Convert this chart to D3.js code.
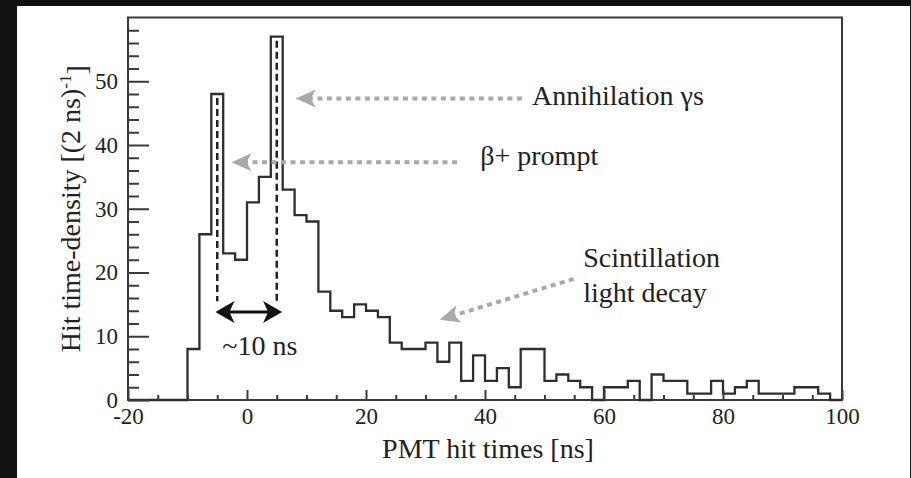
<!DOCTYPE html>
<html>
<head>
<meta charset="utf-8">
<script src="https://cdn.jsdelivr.net/npm/d3@7/dist/d3.min.js"></script>
<style>
  html, body { margin: 0; padding: 0; background: #111; }
  svg { display: block; }
  text { font-family: "Liberation Serif", "Times New Roman", serif; fill: #222; }
</style>
</head>
<body>
<script>
// PMT hit-time histogram, 2 ns bins (lower bin edges in ns)
const binEdges = [-20, -18, -16, -14, -12, -10, -8, -6, -4, -2,
                    0,   2,   4,   6,   8,  10, 12, 14, 16, 18,
                   20,  22,  24,  26,  28,  30, 32, 34, 36, 38,
                   40,  42,  44,  46,  48,  50, 52, 54, 56, 58,
                   60,  62,  64,  66,  68,  70, 72, 74, 76, 78,
                   80,  82,  84,  86,  88,  90, 92, 94, 96, 98];
const binUpperEdge = 100;
const hitCounts = [ 0,  0,  0,  0,  0,  8, 26, 48, 23, 22,
                   31, 35, 57, 33, 29, 28, 17, 14, 13, 15,
                   14, 13,  9,  8,  8,  9,  6,  9,  3,  7,
                    3,  5,  2,  8,  8,  3,  4,  3,  2,  0,
                    2,  2,  3,  0,  4,  3,  3,  1,  1,  3,
                    1,  2,  3,  1,  1,  1,  2,  2,  1,  0];

// axes
const xDomain = [-20, 100];
const yDomain = [0, 60];
const xMajorTicks = [-20, 0, 20, 40, 60, 80, 100];
const xMinorTicks = [-15, -10, -5, 5, 10, 15, 25, 30, 35, 45, 50, 55, 65, 70, 75, 85, 90, 95];
const yMajorTicks = [0, 10, 20, 30, 40, 50];
const yMinorTicks = [2, 4, 6, 8, 12, 14, 16, 18, 22, 24, 26, 28, 32, 34, 36, 38, 42, 44, 46, 48, 52, 54, 56, 58];
const xTitle = "PMT hit times [ns]";
const yTitleMain = "Hit time-density [(2 ns)";
const yTitleSup = "-1";
const yTitleEnd = "]";

// annotations (data units)
const peakTimes = [-5, 5];            // dashed markers through the two peaks
const peakTops = [48, 57];
const markerBottom = 15.5;
const spanArrow = { x0: -5.3, x1: 5.9, y: 13.8, label: "~10 ns", labelY: 7.1 };
const pointers = [
  { label: ["Annihilation γs"], tail: [46.2, 47.3], tip: [8.2, 47.3], text: [47.9, 46.3] },
  { label: ["β+ prompt"],      tail: [35.3, 37.3], tip: [-2.6, 37.3], text: [39.2, 36.8] },
  { label: ["Scintillation", "light decay"], tail: [54.9, 19.0], tip: [32.4, 12.6], text: [56.5, 20.8] }
];

const W = 911, H = 478;
const svg = d3.select("body").append("svg").attr("width", W).attr("height", H);

svg.append("rect").attr("width", W).attr("height", H).attr("fill", "#111");
svg.append("rect").attr("x", 17).attr("y", 6).attr("width", 893).attr("height", H - 6).attr("fill", "#fff");

const plot = { left: 128, right: 842, top: 17.5, bottom: 400 };
const x = d3.scaleLinear().domain(xDomain).range([plot.left, plot.right]);
const y = d3.scaleLinear().domain(yDomain).range([plot.bottom, plot.top]);

const axisColor = "#3a3a3a";

// frame
svg.append("rect")
  .attr("x", plot.left).attr("y", plot.top)
  .attr("width", plot.right - plot.left).attr("height", plot.bottom - plot.top)
  .attr("fill", "none").attr("stroke", axisColor).attr("stroke-width", 2);

// histogram outline
const steps = binEdges.map((e, i) => [e, hitCounts[i]]);
steps.push([binUpperEdge, hitCounts[hitCounts.length - 1]]);
const stepLine = d3.line().x(d => x(d[0])).y(d => y(d[1])).curve(d3.curveStepAfter);
svg.append("path")
  .attr("d", stepLine(steps))
  .attr("fill", "none").attr("stroke", "#2e2e2e").attr("stroke-width", 2.3)
  .attr("stroke-linejoin", "miter");

// axes
const plainNumber = d => String(d);   // plain hyphen for negatives
function styleAxis(g) {
  g.select(".domain").remove();
  g.selectAll(".tick line").attr("stroke", axisColor).attr("stroke-width", 2);
  g.selectAll(".tick text")
    .attr("fill", "#222")
    .style("font-family", "'Liberation Serif', serif")
    .style("font-size", "23px");
}

svg.append("g").attr("transform", `translate(0,${plot.bottom})`)
  .call(d3.axisBottom(x).tickValues(xMinorTicks).tickSize(-5).tickFormat(""))
  .call(styleAxis);
svg.append("g").attr("transform", `translate(0,${plot.bottom})`)
  .call(d3.axisBottom(x).tickValues(xMajorTicks).tickSize(-10).tickPadding(8).tickFormat(plainNumber))
  .call(styleAxis)
  .call(g => g.selectAll(".tick text").attr("y", 8).attr("dy", "0.71em"));

svg.append("g").attr("transform", `translate(${plot.left},0)`)
  .call(d3.axisLeft(y).tickValues(yMinorTicks).tickSize(-11).tickFormat(""))
  .call(styleAxis);
svg.append("g").attr("transform", `translate(${plot.left},0)`)
  .call(d3.axisLeft(y).tickValues(yMajorTicks).tickSize(-21).tickPadding(10).tickFormat(plainNumber))
  .call(styleAxis);

// axis titles
svg.append("text")
  .attr("x", 488).attr("y", 458)
  .attr("text-anchor", "middle")
  .style("font-size", "28px")
  .text(xTitle);

const yt = svg.append("text")
  .attr("transform", `translate(80,${(plot.top + plot.bottom) / 2}) rotate(-90)`)
  .attr("text-anchor", "middle")
  .style("font-size", "28px");
yt.append("tspan").text(yTitleMain);
yt.append("tspan").attr("dy", "-0.55em").style("font-size", "17px").text(yTitleSup);
yt.append("tspan").attr("dy", "0.55em").text(yTitleEnd);

// dashed peak markers
peakTimes.forEach((t, i) => {
  svg.append("line")
    .attr("x1", x(t)).attr("x2", x(t))
    .attr("y1", y(peakTops[i])).attr("y2", y(markerBottom))
    .attr("stroke", "#222").attr("stroke-width", 2.5)
    .attr("stroke-dasharray", "7,4").attr("stroke-dashoffset", 7);
});

// arrowhead polygon helper
function headPath(tip, dir, len, half, notch) {
  const [ux, uy] = dir, nx = -uy, ny = ux;
  const bx = tip[0] - len * ux, by = tip[1] - len * uy;
  const p = [
    tip,
    [bx + half * nx, by + half * ny],
    [tip[0] - (len - notch) * ux, tip[1] - (len - notch) * uy],
    [bx - half * nx, by - half * ny]
  ];
  return "M" + p.map(q => q.join(",")).join("L") + "Z";
}

// double arrow spanning the peak separation
{
  const yy = y(spanArrow.y);
  const a = [x(spanArrow.x0), yy], b = [x(spanArrow.x1), yy];
  svg.append("line")
    .attr("x1", a[0] + 12).attr("x2", b[0] - 12).attr("y1", yy).attr("y2", yy)
    .attr("stroke", "#111").attr("stroke-width", 3);
  svg.append("path").attr("d", headPath(a, [-1, 0], 19, 11, 5)).attr("fill", "#111");
  svg.append("path").attr("d", headPath(b, [1, 0], 19, 11, 5)).attr("fill", "#111");
  svg.append("text")
    .attr("x", (a[0] + b[0]) / 2 + 11).attr("y", y(spanArrow.labelY))
    .attr("text-anchor", "middle")
    .style("font-size", "28px")
    .text(spanArrow.label);
}

// gray dotted pointers and their labels
const gray = "#a9a9a9";
pointers.forEach(p => {
  const tail = [x(p.tail[0]), y(p.tail[1])];
  const tip = [x(p.tip[0]), y(p.tip[1])];
  const dx = tip[0] - tail[0], dy = tip[1] - tail[1];
  const L = Math.hypot(dx, dy);
  const u = [dx / L, dy / L];
  const headLen = 20, notch = 5;
  svg.append("line")
    .attr("x1", tail[0]).attr("y1", tail[1])
    .attr("x2", tip[0] - (headLen - notch) * u[0]).attr("y2", tip[1] - (headLen - notch) * u[1])
    .attr("stroke", gray).attr("stroke-width", 4)
    .attr("stroke-dasharray", "5,4.5");
  svg.append("path").attr("d", headPath(tip, u, headLen, 9, notch)).attr("fill", gray);
  const t = svg.append("text")
    .attr("x", x(p.text[0])).attr("y", y(p.text[1]))
    .style("font-size", "28px");
  p.label.forEach((line, i) => {
    t.append("tspan").attr("x", x(p.text[0])).attr("dy", i === 0 ? 0 : 35).text(line);
  });
});
</script>
</body>
</html>
